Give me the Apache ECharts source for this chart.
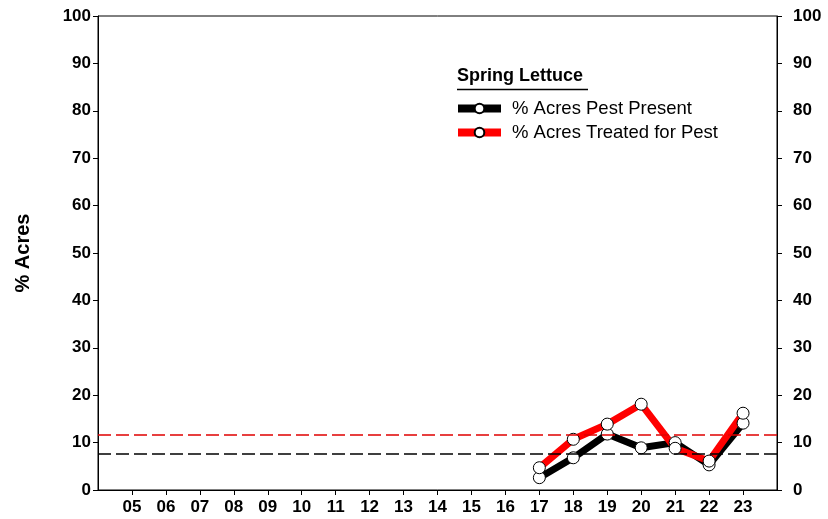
<!DOCTYPE html>
<html><head><meta charset="utf-8">
<script src="https://cdn.jsdelivr.net/npm/echarts@6/dist/echarts.min.js"></script>
<style>html,body{margin:0;padding:0;background:#fff}#c{width:828px;height:519px}</style>
</head><body><div id="c"></div>
<script>
const years = ['17','18','19','20','21','22','23'];
const pestPresent = [2.6, 6.8, 11.8, 8.9, 10.0, 5.3, 14.1];
const treated = [4.7, 10.7, 13.9, 18.1, 8.8, 6.1, 16.2];
const avgPresent = 7.7;
const avgTreated = 11.7;
const xTickLabels = ['05','06','07','08','09','10','11','12','13','14','15','16','17','18','19','20','21','22','23'];
const seriesNames = ['% Acres Pest Present', '% Acres Treated for Pest'];
const legendTitle = 'Spring Lettuce';

const font = 'Liberation Sans, Arial, sans-serif';
const chart = echarts.init(document.getElementById('c'));
const pts = arr => years.map((y, i) => [parseInt(y, 10), arr[i]]);
const tickVals = xTickLabels.map(s => parseInt(s, 10));
const xMin = tickVals[0] - 1;
const xMax = tickVals[tickVals.length - 1] + 1;
const yAxisCommon = {
  type: 'value', min: 0, max: 100, interval: 10,
  axisLine: {show: true, lineStyle: {color: '#000', width: 1}},
  axisTick: {show: true, inside: false, length: 5, lineStyle: {color: '#000'}},
  splitLine: {show: false},
  axisLabel: {color: '#000', fontFamily: font, fontWeight: 'bold', fontSize: 17}
};
chart.setOption({
  animation: false,
  grid: {left: 98, right: 51, top: 16, bottom: 29, show: true, borderColor: '#000', borderWidth: 1},
  xAxis: {
    type: 'value', min: xMin, max: xMax, interval: 1,
    axisLine: {show: true, onZero: false, lineStyle: {color: '#000'}},
    axisTick: {show: true, length: 5, lineStyle: {color: '#000'}, customValues: tickVals},
    splitLine: {show: false},
    axisLabel: {
      color: '#000', fontFamily: font, fontWeight: 'bold', fontSize: 17, margin: 9,
      customValues: tickVals,
      formatter: v => xTickLabels[tickVals.indexOf(v)] || ''
    }
  },
  yAxis: [
    Object.assign({}, yAxisCommon, {
      position: 'left',
      name: '% Acres', nameLocation: 'middle', nameGap: 65,
      nameTextStyle: {color: '#000', fontFamily: font, fontWeight: 'bold', fontSize: 20},
      axisLabel: Object.assign({}, yAxisCommon.axisLabel, {margin: 7})
    }),
    Object.assign({}, yAxisCommon, {
      position: 'right',
      axisLabel: Object.assign({}, yAxisCommon.axisLabel, {margin: 16})
    })
  ],
  legend: {
    orient: 'vertical', left: 449, top: 94, itemWidth: 43, itemHeight: 12, itemGap: 5,
    textStyle: {color: '#000', fontFamily: font, fontSize: 18.5, padding: [0, 0, 0, 6]},
    lineStyle: {width: 8},
    data: seriesNames
  },
  graphic: [
    {type: 'text', left: 457, top: 67, style: {text: legendTitle, fill: '#000', font: 'bold 18px ' + font}},
    {type: 'line', shape: {x1: 457, y1: 89.5, x2: 588, y2: 89.5}, style: {stroke: '#000', lineWidth: 1.5}}
  ],
  series: [
    {
      name: seriesNames[0], type: 'line', data: pts(pestPresent),
      lineStyle: {color: '#000', width: 7}, symbol: 'circle', symbolSize: 12,
      itemStyle: {color: '#fff', borderColor: '#000', borderWidth: 1},
      color: '#000',
      markLine: {silent: true, symbol: 'none', label: {show: false},
        lineStyle: {color: '#000', type: [13, 5], width: 1.5}, data: [{yAxis: avgPresent}]}
    },
    {
      name: seriesNames[1], type: 'line', data: pts(treated),
      lineStyle: {color: '#ff0000', width: 7}, symbol: 'circle', symbolSize: 12,
      itemStyle: {color: '#fff', borderColor: '#000', borderWidth: 1},
      color: '#ff0000',
      markLine: {silent: true, symbol: 'none', label: {show: false},
        lineStyle: {color: '#e00000', type: [13, 5], width: 1.5}, data: [{yAxis: avgTreated}]}
    }
  ]
});
</script></body></html>
